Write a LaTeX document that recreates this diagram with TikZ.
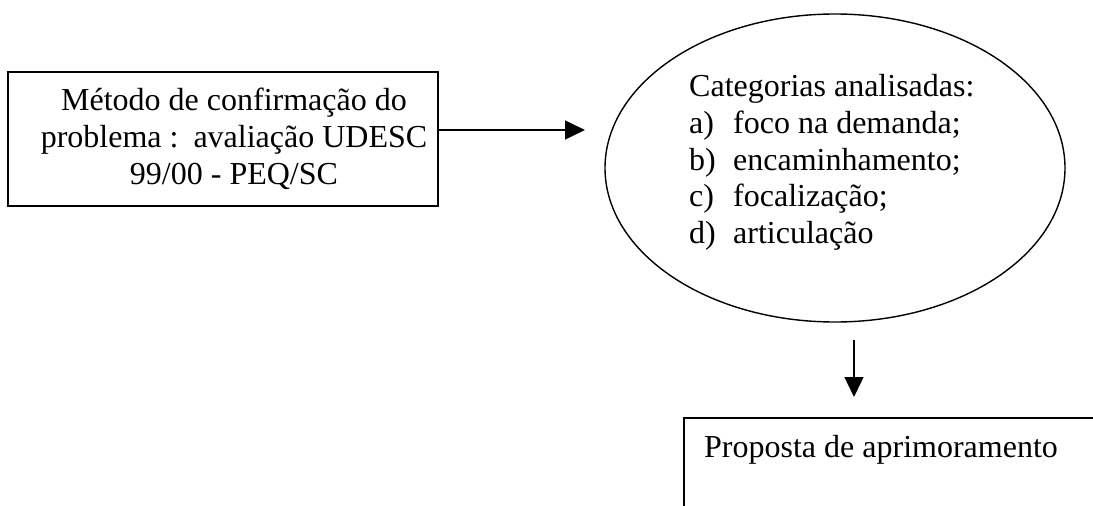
\documentclass[tikz,border=0pt]{standalone}
\usepackage{fontspec}
\setmainfont{Liberation Serif}
\usetikzlibrary{arrows.meta,shapes.geometric}

\tikzset{
  txt/.style={font=\fontsize{32}{37}\selectfont, inner sep=0pt},
  boxed/.style={draw, line width=1.6pt, rectangle},
  oval/.style={draw, line width=1.4pt, ellipse, inner sep=0pt},
  arr/.style={line width=1.4pt, -{Triangle[length=20pt,width=19pt]}},
  itemlabel/.style={txt, anchor=base west}
}

\begin{document}
\begin{tikzpicture}[x=1pt,y=-1pt]
  \useasboundingbox (0,0) rectangle (1093,506);
  \clip (0,0) rectangle (1093,506);

  % method box and its centred text (anchored on the last line's baseline)
  \node (meth) [boxed, minimum width=430pt, minimum height=134pt] at (223,139) {};
  \node (metht) [txt, align=center, anchor=base] at (234,184)
    {Método de confirmação do\\ problema :\hspace{15pt}avaliação UDESC\\ 99/00 - PEQ/SC};

  % categories ellipse and its list
  \node (cat) [oval, minimum width=460pt, minimum height=308pt] at (835,168) {};
  \node (c0) [itemlabel] at (689,96)  {Categorias analisadas:};
  \node (c1) [itemlabel] at (689,133) {\makebox[44pt][l]{a)}foco na demanda;};
  \node (c2) [itemlabel] at (689,170) {\makebox[44pt][l]{b)}encaminhamento;};
  \node (c3) [itemlabel] at (689,206) {\makebox[44pt][l]{c)}focalização;};
  \node (c4) [itemlabel] at (689,243) {\makebox[44pt][l]{d)}articulação};

  % proposal box (runs past the right and bottom edges)
  \node (prop) [boxed, anchor=north west, minimum width=460pt, minimum height=160pt]
    at (683,417) {};
  \node (propt) [itemlabel] at (704,457) {Proposta de aprimoramento};

  % connectors
  \coordinate (a1) at (585,130);
  \draw[arr] (meth.east |- a1) -- (a1);
  \coordinate (a2s) at (854,340);
  \coordinate (a2e) at (854,397);
  \draw[arr] (a2s) -- (a2e);
\end{tikzpicture}
\end{document}
